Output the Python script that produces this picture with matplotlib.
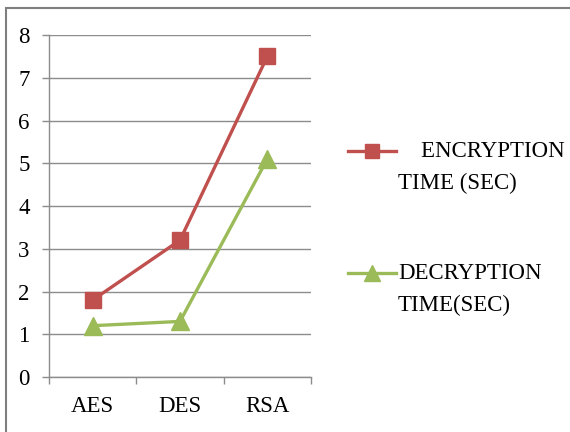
import matplotlib.pyplot as plt
from matplotlib.lines import Line2D
from matplotlib.patches import Rectangle
import numpy as np

plt.rcParams['font.family'] = ['Liberation Serif', 'DejaVu Serif']

# timings per algorithm
algorithms = ['AES', 'DES', 'RSA']
encryption_time = [1.8, 3.2, 7.5]
decryption_time = [1.2, 1.3, 5.1]
series_labels = ['    ENCRYPTION\nTIME (SEC)', 'DECRYPTION\nTIME(SEC)']

red = '#C0504D'
green = '#9BBB59'
grid_col = '#8C8C8C'
fs = 16.5

fig = plt.figure(figsize=(5.7, 4.32), dpi=100)
ax = fig.add_axes([49 / 570, 1 - 377 / 432, 262 / 570, 342 / 432])

x = np.arange(len(algorithms))
ax.plot(x, encryption_time, color=red, lw=2.4, marker='s', ms=12,
        markeredgecolor=red, zorder=3)
ax.plot(x, decryption_time, color=green, lw=2.4, marker='^', ms=13,
        markeredgecolor=green, zorder=3)

ax.set_xlim(-0.5, len(algorithms) - 0.5)
ax.set_ylim(0, 8)
ax.set_yticks(range(0, 9))
ax.yaxis.grid(True, color=grid_col, lw=1)
ax.set_axisbelow(True)

# category boundaries as major ticks, names on minor ticks
ax.set_xticks(np.arange(-0.5, len(algorithms), 1.0))
ax.set_xticklabels([])
ax.set_xticks(x, minor=True)
ax.set_xticklabels(algorithms, minor=True)
ax.tick_params(axis='x', which='major', length=5, color=grid_col, width=1)
ax.tick_params(axis='x', which='minor', length=0, pad=14, labelsize=fs)
ax.tick_params(axis='y', length=5, color=grid_col, width=1, pad=9, labelsize=fs)

for side in ('top', 'right'):
    ax.spines[side].set_visible(False)
for side in ('left', 'bottom'):
    ax.spines[side].set_color(grid_col)
    ax.spines[side].set_linewidth(1)

# legend on the right
entries = [(red, 's', 12, 151, 154), (green, '^', 13, 273, 276)]
for (col, mk, ms, ypix, ytxt), label in zip(entries, series_labels):
    yf = 1 - ypix / 432
    fig.add_artist(Line2D([348 / 570, 396 / 570], [yf, yf], color=col, lw=2.4))
    fig.add_artist(Line2D([372 / 570], [yf], color=col, marker=mk, ms=ms * 0.85,
                          markeredgecolor=col))
    fig.text(398 / 570, 1 - (ytxt - 13) / 432, label, fontsize=fs, va='top',
             ha='left', linespacing=1.65)

# chart frame
fig.add_artist(Rectangle((6 / 570, -0.1), 1.2, 1.1 - 8 / 432, fill=False,
                         edgecolor='#7F7F7F', lw=1.5, transform=fig.transFigure))

fig.savefig('out.png', dpi=100)
